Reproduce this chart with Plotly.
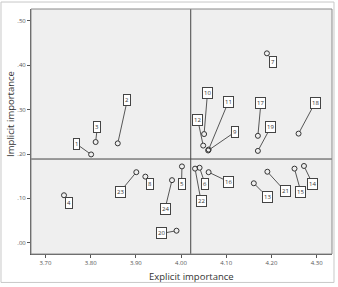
import plotly.graph_objects as go

# Data
item_ids = ["1", "2", "3", "4", "5", "6", "7", "8", "9", "10", "11", "12",
            "13", "14", "15", "16", "17", "18", "19", "20", "21", "22", "23", "24"]
explicit = [3.801, 3.860, 3.811, 3.741, 4.002, 4.041, 4.190, 3.921, 4.060, 4.051, 4.061, 4.049,
            4.161, 4.272, 4.251, 4.061, 4.170, 4.260, 4.170, 3.990, 4.191, 4.031, 3.901, 3.980]
implicit = [0.199, 0.224, 0.227, 0.107, 0.172, 0.169, 0.427, 0.149, 0.208, 0.245, 0.210, 0.219,
            0.134, 0.173, 0.167, 0.159, 0.241, 0.246, 0.207, 0.027, 0.160, 0.167, 0.159, 0.141]

# label box offsets (pixels) relative to each point
label_dx = [-15, 9.6, 1.7, 4.7, -0.4, 5.6, 5.7, 5, 26.6, 3.4, 19.6, -5.4,
            13.3, 8.7, 6.3, 19.6, 3, 16.6, 13, -14.7, 18, 6, -16, -7]
label_dy = [-10.7, -43.7, -15, 7.7, 17.6, 16.3, 8.4, 7.6, -18.3, -41.3, -47.3, -25.7,
            13.4, 18, 23, 9.4, -32.7, -31, -24, 2.7, 19.7, 32.6, 19.4, 28.7]

mean_explicit = 4.0214
mean_implicit = 0.1887

x_ticks = [3.70, 3.80, 3.90, 4.00, 4.10, 4.20, 4.30]
x_ticktext = ["3.70", "3.80", "3.90", "4.00", "4.10", "4.20", "4.30"]
y_ticks = [0.0, 0.1, 0.2, 0.3, 0.4, 0.5]
y_ticktext = [".00", ".10", ".20", ".30", ".40", ".50"]

FONT = "Open Sans, Noto Sans, Arial, sans-serif"

fig = go.Figure()
fig.add_trace(go.Scatter(
    x=explicit, y=implicit, mode="markers",
    marker=dict(size=5, color="rgba(255,255,255,0)", line=dict(color="#333", width=1)),
    hoverinfo="skip", showlegend=False, cliponaxis=False,
))

annotations = []
for i, lab in enumerate(item_ids):
    annotations.append(dict(
        x=explicit[i], y=implicit[i], xref="x", yref="y",
        ax=label_dx[i], ay=label_dy[i],
        text=lab, showarrow=True, arrowhead=0, arrowwidth=0.9, arrowcolor="#444",
        standoff=2.5, font=dict(family=FONT, size=6, color="#333"),
        bordercolor="#444", borderwidth=1, borderpad=1, bgcolor="white",
    ))

annotations.append(dict(text="Explicit importance", x=0.532, y=-0.092, xref="paper", yref="paper",
                        showarrow=False, xanchor="center", yanchor="middle",
                        font=dict(family=FONT, size=9.5, color="#333")))
annotations.append(dict(text="Implicit importance", x=-0.068, y=0.57, xref="paper", yref="paper",
                        showarrow=False, xanchor="center", yanchor="middle", textangle=-90,
                        font=dict(family=FONT, size=9.5, color="#333")))

shapes = [
    # outer frame
    dict(type="rect", xref="paper", yref="paper", x0=-0.0997, x1=1.0066, y0=-0.1161, y1=1.0285,
         line=dict(color="#c8c8c8", width=1), fillcolor="rgba(0,0,0,0)", layer="below"),
    # plot border (top/right)
    dict(type="rect", xref="paper", yref="paper", x0=0, x1=1, y0=0, y1=1,
         line=dict(color="#8a8a8a", width=1), fillcolor="rgba(0,0,0,0)", layer="above"),
    # reference lines
    dict(type="line", xref="x", yref="paper", x0=mean_explicit, x1=mean_explicit, y0=0, y1=1,
         line=dict(color="#444", width=1), layer="below"),
    dict(type="line", xref="paper", yref="y", x0=0, x1=1, y0=mean_implicit, y1=mean_implicit,
         line=dict(color="#444", width=1), layer="below"),
]

fig.update_layout(
    width=338, height=287,
    margin=dict(l=31, r=6, t=9, b=32.5),
    paper_bgcolor="white", plot_bgcolor="#efefef",
    annotations=annotations, shapes=shapes,
    font=dict(family=FONT),
)
fig.update_xaxes(range=[3.668, 4.334], tickvals=x_ticks, ticktext=x_ticktext,
                 showgrid=False, zeroline=False, showline=True, linecolor="#555", linewidth=1,
                 ticks="outside", ticklen=3, tickcolor="#555",
                 tickfont=dict(family=FONT, size=6, color="#555"))
fig.update_yaxes(range=[-0.0255, 0.527], tickvals=y_ticks, ticktext=y_ticktext,
                 showgrid=False, zeroline=False, showline=True, linecolor="#555", linewidth=1,
                 ticks="outside", ticklen=3, tickcolor="#555",
                 tickfont=dict(family=FONT, size=6, color="#555"))

fig.write_html("out.html")
